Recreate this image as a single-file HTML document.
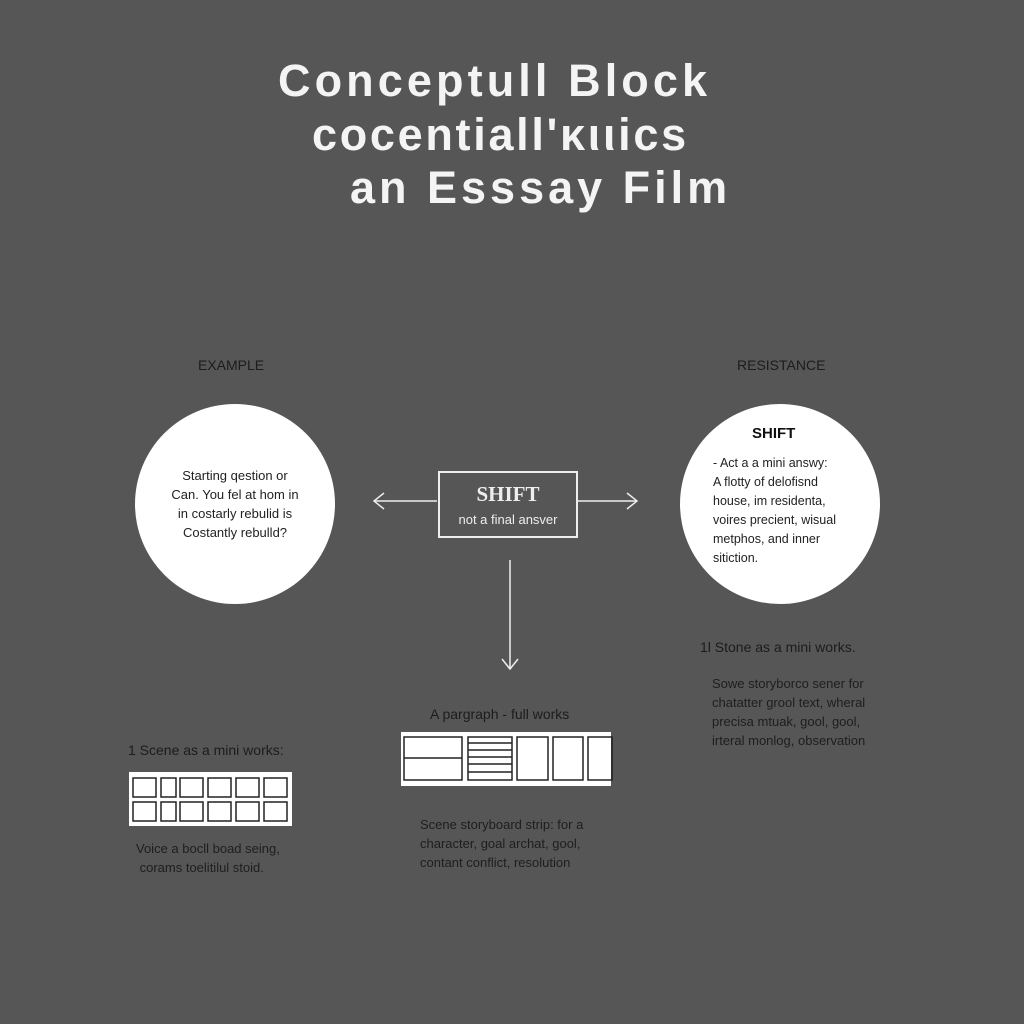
<!DOCTYPE html>
<html><head><style>
body{margin:0;width:1024px;height:1024px;background:#565656;position:relative;overflow:hidden;font-family:"Liberation Sans",sans-serif;color:#fff}
.t{position:absolute;white-space:nowrap}
.title{font-size:45px;font-weight:bold;color:#f4f4f4}
.c{position:absolute;background:#fff;border-radius:50%;color:#222}
.dk{color:#1c1c1c}
</style></head><body>
<div class="t title" style="left:278px;top:55px;letter-spacing:4.1px">Conceptull Block</div>
<div class="t title" style="left:312px;top:109px;letter-spacing:2.7px">cocentiall'κιιics</div>
<div class="t title" style="left:350px;top:162px;letter-spacing:4px">an Esssay Film</div>

<div class="t dk" style="left:198px;top:357px;font-size:14px">EXAMPLE</div>
<div class="t dk" style="left:737px;top:357px;font-size:14px">RESISTANCE</div>

<div class="c" style="left:135px;top:404px;width:200px;height:200px"></div>
<div class="t" style="left:135px;top:466px;width:200px;text-align:center;font-size:13px;line-height:19px;color:#222">Starting qestion or<br>Can. You fel at hom in<br>in costarly rebulid is<br>Costantly rebulld?</div>

<div class="c" style="left:680px;top:404px;width:200px;height:200px"></div>
<div class="t" style="left:752px;top:425px;font-size:15px;font-weight:bold;color:#111">SHIFT</div>
<div class="t" style="left:713px;top:454px;font-size:12.5px;line-height:19px;color:#222">- Act a a mini answy:<br>A flotty of delofisnd<br>house, im residenta,<br>voires precient, wisual<br>metphos, and inner<br>sitiction.</div>

<div class="t" style="left:438px;top:471px;width:136px;height:63px;border:2px solid #eee"></div>
<div class="t" style="left:438px;top:482px;width:140px;text-align:center;font-family:'Liberation Serif',serif;font-size:21px;font-weight:bold;color:#eee">SHIFT</div>
<div class="t" style="left:438px;top:512px;width:140px;text-align:center;font-size:13px;color:#eee">not a final ansver</div>

<svg style="position:absolute;left:0;top:0" width="1024" height="1024">
<g stroke="#eee" stroke-width="1.5" fill="none">
<line x1="374" y1="501" x2="437" y2="501"/><polyline points="384,493 374,501 384,509"/>
<line x1="578" y1="501" x2="637" y2="501"/><polyline points="627,493 637,501 627,509"/>
<line x1="510" y1="560" x2="510" y2="669"/><polyline points="502,659 510,669 518,659"/>
</g>
<rect x="129" y="772" width="163" height="54" fill="#fff"/>
<g stroke="#222" stroke-width="1.5" fill="none">
<rect x="133" y="778" width="23" height="19"/><rect x="161" y="778" width="15" height="19"/><rect x="180" y="778" width="23" height="19"/><rect x="208" y="778" width="23" height="19"/><rect x="236" y="778" width="23" height="19"/><rect x="264" y="778" width="23" height="19"/>
<rect x="133" y="802" width="23" height="19"/><rect x="161" y="802" width="15" height="19"/><rect x="180" y="802" width="23" height="19"/><rect x="208" y="802" width="23" height="19"/><rect x="236" y="802" width="23" height="19"/><rect x="264" y="802" width="23" height="19"/>
</g>
<rect x="401" y="732" width="210" height="54" fill="#fff"/>
<g stroke="#222" stroke-width="1.5" fill="none">
<rect x="404" y="737" width="58" height="43"/><line x1="404" y1="758" x2="462" y2="758"/>
<rect x="468" y="737" width="44" height="43"/><line x1="468" y1="743" x2="512" y2="743"/><line x1="468" y1="750" x2="512" y2="750"/><line x1="468" y1="757" x2="512" y2="757"/><line x1="468" y1="764" x2="512" y2="764"/><line x1="468" y1="772" x2="512" y2="772"/>
<rect x="517" y="737" width="31" height="43"/><rect x="553" y="737" width="30" height="43"/><rect x="588" y="737" width="24" height="43"/>
</g>
</svg>

<div class="t dk" style="left:430px;top:706px;font-size:14px">A pargraph - full works</div>
<div class="t dk" style="left:128px;top:742px;font-size:14px">1 Scene as a mini works:</div>
<div class="t" style="left:136px;top:839px;font-size:13px;line-height:19px;color:#1e1e1e">Voice a bocll boad seing,<br>&nbsp;corams toelitilul stoid.</div>
<div class="t" style="left:420px;top:815px;font-size:13px;line-height:19px;color:#1e1e1e">Scene storyboard strip: for a<br>character, goal archat, gool,<br>contant conflict, resolution</div>
<div class="t dk" style="left:700px;top:639px;font-size:14px">1l Stone as a mini works.</div>
<div class="t" style="left:712px;top:674px;font-size:13px;line-height:19px;color:#1e1e1e">Sowe storyborco sener for<br>chatatter grool text, wheral<br>precisa mtuak, gool, gool,<br>irteral monlog, observation</div>
</body></html>
